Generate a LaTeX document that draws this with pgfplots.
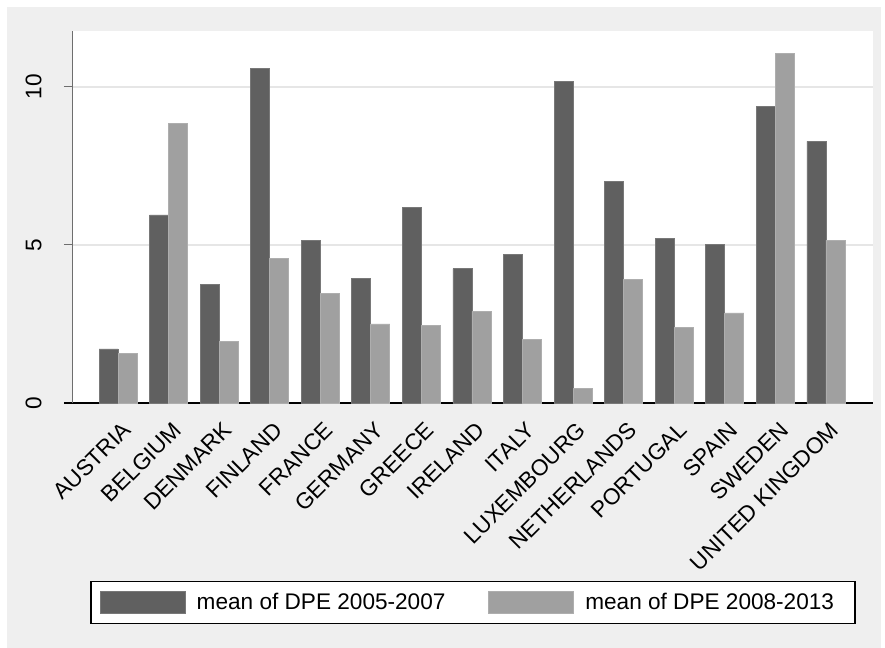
\documentclass[border=0pt]{standalone}
\usepackage{pgfplots}
\pgfplotsset{compat=1.18}
\usepackage{fontspec}
\setmainfont{Liberation Sans}
\definecolor{bgray}{HTML}{EFEFEF}
\definecolor{darkbar}{HTML}{606060}
\definecolor{lightbar}{HTML}{A0A0A0}
\definecolor{gridc}{HTML}{E6E6E6}
\definecolor{axisc}{HTML}{6E6E6E}
\newcommand{\lblfont}{\fontsize{11.3}{13}\selectfont}

\begin{document}
\begin{tikzpicture}
% outer region (1px = 0.5pt)
\fill[white] (-36.5pt,-122.5pt) rectangle (406pt,201.5pt);
\fill[bgray] (-33pt,-122.5pt) rectangle (404pt,198pt);
\begin{axis}[
	at = {(0,0)},
	anchor = south west,
	scale only axis,
	width = 400pt,
	height = 186pt,
	ybar = 0pt,
	bar width = 9.5pt,
	xmin = -0.89,
	xmax = 14.93,
	ymin = 0,
	ymax = 11.77,
	axis background/.style = {fill = white},
	axis x line* = bottom,
	axis y line* = left,
	x axis line style = {black, line width = 0.6pt, shorten < = -4.5pt},
	y axis line style = {axisc, line width = 0.5pt},
	xtick = {0,...,14},
	xticklabels = {AUSTRIA, BELGIUM, DENMARK, FINLAND, FRANCE, GERMANY, GREECE, IRELAND, ITALY, LUXEMBOURG, NETHERLANDS, PORTUGAL, SPAIN, SWEDEN, UNITED KINGDOM},
	x tick style = {draw = none},
	ytick = {0, 5, 10},
	y tick style = {axisc, line width = 0.5pt},
	tick align = outside,
	major tick length = 4.5pt,
	ymajorgrids,
	y grid style = {gridc, line width = 0.75pt},
	/pgf/number format/assume math mode = true,
	xticklabel style = {font = \lblfont, inner sep = 0pt, xshift = 1.5pt, yshift = -4pt, rotate = 45, anchor = north east},
	yticklabel style = {font = \lblfont, inner sep = 0pt, xshift = -11pt, rotate = 90, anchor = south},
	legend columns = 2,
	legend cell align = left,
	legend style = {
		at = {(0.5, -0.4785)},
		anchor = north,
		draw = black,
		line width = 0.6pt,
		fill = white,
		font = \lblfont,
		inner xsep = 4.5pt,
		inner ysep = 4.75pt,
		nodes = {inner sep = 0pt},
		/tikz/every odd column/.append style = {column sep = 5.5pt},
		/tikz/every even column/.append style = {column sep = 21.5pt}
	},
	legend image code/.code = {
		\draw[#1, line width = 0.4pt] (0pt, -5.5pt) rectangle (42.5pt, 5.5pt);
	}
]
\addplot[fill = darkbar, draw = darkbar!85!white, line width = 0.4pt] coordinates {
	(0, 1.71) (1, 5.95) (2, 3.74) (3, 10.58) (4, 5.13) (5, 3.94) (6, 6.18) (7, 4.25)
	(8, 4.70) (9, 10.18) (10, 7.02) (11, 5.22) (12, 5.02) (13, 9.39) (14, 8.28)
};
\addplot[fill = lightbar, draw = lightbar!85!white, line width = 0.4pt] coordinates {
	(0, 1.58) (1, 8.84) (2, 1.94) (3, 4.57) (4, 3.46) (5, 2.50) (6, 2.46) (7, 2.90)
	(8, 2.01) (9, 0.46) (10, 3.92) (11, 2.40) (12, 2.85) (13, 11.06) (14, 5.15)
};
\legend{mean of DPE 2005-2007, mean of DPE 2008-2013\rule{6pt}{0pt}}
\end{axis}
\pgfresetboundingbox
\path[use as bounding box] (-36.5pt,-122.5pt) rectangle (406pt,201.5pt);
\end{tikzpicture}
\end{document}
